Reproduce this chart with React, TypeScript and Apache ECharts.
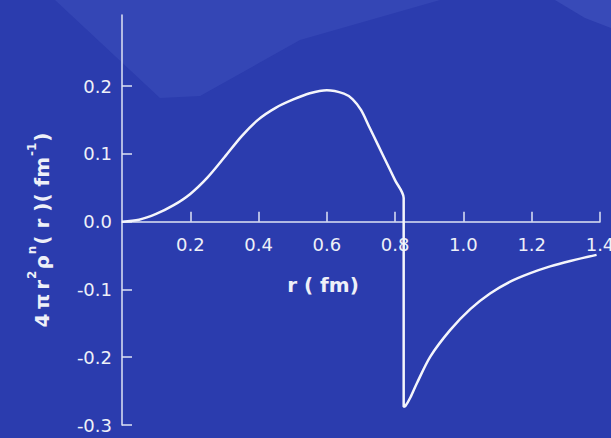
import React, { useEffect, useRef } from "react";
import * as echarts from "echarts";

const rValues = [0, 0.05, 0.1, 0.15, 0.2, 0.25, 0.3, 0.35, 0.4, 0.45, 0.5, 0.55, 0.6, 0.65, 0.675, 0.7, 0.725, 0.75, 0.775, 0.8, 0.825, 0.825, 0.83, 0.845, 0.864, 0.903, 0.961, 1.02, 1.078, 1.137, 1.196, 1.254, 1.313, 1.39];
const densityValues = [0, 0.003, 0.0115, 0.024, 0.041, 0.065, 0.095, 0.126, 0.151, 0.168, 0.18, 0.1895, 0.194, 0.189, 0.181, 0.165, 0.139, 0.113, 0.087, 0.061, 0.035, -0.273, -0.272, -0.259, -0.238, -0.199, -0.16, -0.129, -0.106, -0.0885, -0.076, -0.066, -0.058, -0.049];
const xTicks = [0.2, 0.4, 0.6, 0.8, 1.0, 1.2, 1.4];
const yTicks = [-0.3, -0.2, -0.1, 0, 0.1, 0.2];

export default function App() {
  const ref = useRef<HTMLDivElement>(null);
  useEffect(() => {
    if (!ref.current) return;
    const chart = echarts.init(ref.current, null, { renderer: "svg" });
    const axisColor = "#dfe3f4";
    const font = "DejaVu Sans";
    const textColor = "#eef0f8";
    chart.setOption({
      animation: false,
      backgroundColor: "#2b3cae",
      grid: { left: 122, right: 11, top: 15, bottom: 13, outerBoundsMode: "none" },
      graphic: [
        {
          type: "polygon",
          z: -10,
          silent: true,
          shape: { points: [[55, 0], [160, 98], [200, 96], [300, 40], [440, 0]] },
          style: { fill: "#3748b6", opacity: 0.8 },
        },
        {
          type: "polygon",
          z: -10,
          silent: true,
          shape: { points: [[555, 0], [611, 0], [611, 28], [585, 18]] },
          style: { fill: "#3c4eba", opacity: 0.8 },
        },
        {
          type: "text",
          x: 323,
          y: 285,
          style: {
            text: "r ( fm)",
            fill: textColor,
            font: `bold 20px "${font}"`,
            align: "center",
            verticalAlign: "middle",
          },
        },
        {
          type: "text",
          x: 39,
          y: 230,
          rotation: Math.PI / 2,
          style: {
            text: "{m|4\u2009π\u2009r}{s|2}{m|ρ}{s|n}{m|( r )( fm}{s|-1}{m|)}",
            fill: textColor,
            align: "center",
            verticalAlign: "middle",
            rich: {
              m: { font: `bold 20px "${font}"`, fill: textColor, lineHeight: 26, verticalAlign: "bottom" },
              s: { font: `bold 12px "${font}"`, fill: textColor, lineHeight: 26, verticalAlign: "top", padding: [0, 1, 0, 1] },
            },
          },
        },
      ],
      xAxis: {
        type: "value",
        min: 0,
        max: 1.4,
        position: "bottom",
        offset: -203.3,
        axisLine: { onZero: false, lineStyle: { color: axisColor, width: 1.5 } },
        axisTick: { inside: true, length: 10, customValues: xTicks, lineStyle: { color: axisColor, width: 1.5 } },
        axisLabel: {
          customValues: xTicks,
          margin: 14,
          color: textColor,
          fontFamily: font,
          fontSize: 18,
          formatter: (v: number) => v.toFixed(1),
        },
        splitLine: { show: false },
      },
      yAxis: {
        type: "value",
        min: -0.3,
        max: 0.305,
        axisLine: { show: true, onZero: false, lineStyle: { color: axisColor, width: 1.5 } },
        axisTick: { show: true, inside: true, length: 10, customValues: yTicks, lineStyle: { color: axisColor, width: 1.5 } },
        axisLabel: {
          customValues: yTicks,
          margin: 10,
          color: textColor,
          fontFamily: font,
          fontSize: 18,
          formatter: (v: number) => v.toFixed(1),
        },
        splitLine: { show: false },
      },
      series: [
        {
          type: "line",
          data: rValues.map((r, i) => [r, densityValues[i]]),
          showSymbol: false,
          smooth: 0.3,
          lineStyle: { color: "#f4f5fb", width: 2.5 },
        },
      ],
    });
    return () => chart.dispose();
  }, []);
  return <div ref={ref} style={{ width: 611, height: 438, position: "absolute", left: 0, top: 0 }} />;
}
